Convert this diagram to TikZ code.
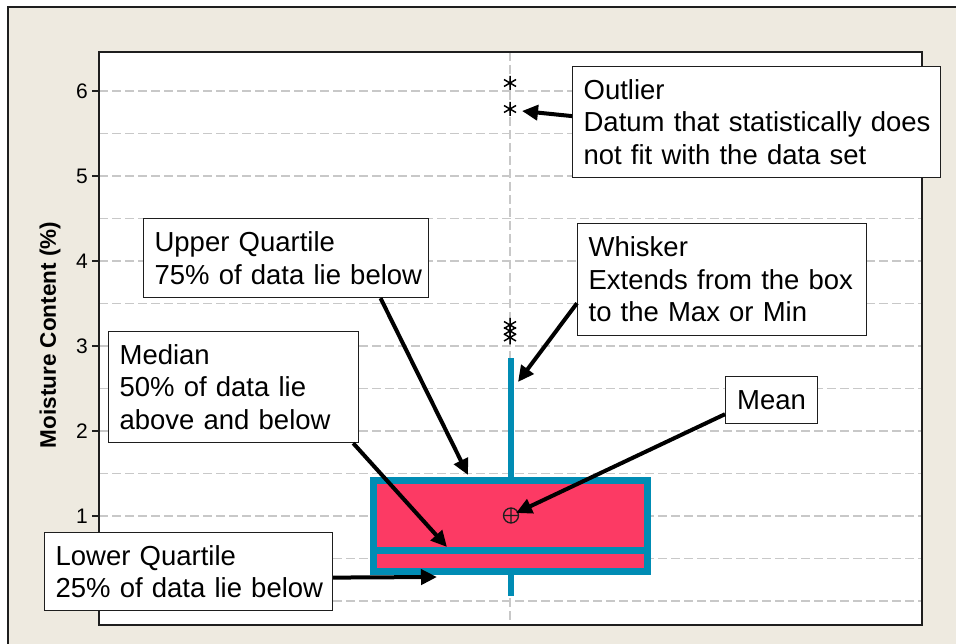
\documentclass[tikz,border=0pt]{standalone}
\usepackage{fontspec}
\setmainfont{Liberation Sans}
\usetikzlibrary{arrows.meta,calc}

\definecolor{panel}{RGB}{238,234,224}
\definecolor{boxfill}{RGB}{252,58,100}
\definecolor{boxedge}{RGB}{0,140,180}
\definecolor{gridgray}{RGB}{200,200,200}
\definecolor{ink}{RGB}{30,30,30}

\tikzset{
  callout/.style={draw=ink, line width=1.2pt, fill=white, anchor=north west,
    align=left, inner xsep=11pt, inner ysep=0pt,
    font=\fontsize{27.5}{32.5}\selectfont},
  pointer/.style={line width=4pt, -{Triangle[length=16pt,width=15pt]}},
  grid line/.style={gridgray, line width=1.5pt, dash pattern=on 9pt off 4pt},
  ticklabel/.style={anchor=east, inner sep=0pt, font=\fontsize{21}{21}\selectfont},
  outlier/.pic={\draw[line width=1.5pt] (0,-7) -- (0,7)
      (-6,-3.5) -- (6,3.5) (-6,3.5) -- (6,-3.5);},
}

\begin{document}
\begin{tikzpicture}[x=1pt,y=-1pt]
  \useasboundingbox (0,0) rectangle (956,644);

  % outer panel
  \fill[panel] (8,7) rectangle (956,644);
  \draw[ink, line width=2pt] (8,644) -- (8,7) -- (956,7);

  % plot area
  \fill[white] (99,52) rectangle (922,625);
  \foreach \v in {0,0.5,...,6.01}
    \draw[grid line] (99,{601-85*\v}) -- (922,{601-85*\v});
  \draw[grid line] (510,52) -- (510,625);
  \draw[ink, line width=1.8pt] (99,52) rectangle (922,625);

  % y axis ticks and labels
  \foreach \v in {1,...,6} {
    \draw[ink, line width=1.5pt] (92,{601-85*\v}) -- (99,{601-85*\v});
    \node[ticklabel] (t\v) at (88,{601-85*\v}) {\v};
  }
  \node[rotate=90, font=\bfseries\fontsize{22.5}{22.5}\selectfont] (ylab) at (50,335)
    {Moisture Content (\%)};

  % box plot
  \fill[boxfill] (373.5,480.5) rectangle (647.5,571.5);
  \draw[boxedge, line width=7pt] (373.5,480.5) rectangle (647.5,571.5);
  \draw[boxedge, line width=6.7pt] (373.5,550.7) -- (647.5,550.7);
  \draw[boxedge, line width=6.6pt] (511,477) -- (511,358);
  \draw[boxedge, line width=6.6pt] (511,575) -- (511,596);

  % mean symbol
  \draw[ink, line width=1.3pt] (511,515.5) circle (7.5pt)
    (503.5,515.5) -- (518.5,515.5) (511,508) -- (511,523);

  % outliers
  \pic at (510,83) {outlier};
  \pic at (510,109) {outlier};
  \pic at (510,325) {outlier};
  \pic at (510,331) {outlier};
  \pic at (510,337.5) {outlier};

  % callouts
  \node[callout, text width=346pt, minimum height=111pt] (outl) at (572,66)
    {\mbox{Outlier}\\\mbox{Datum that statistically does}\\\mbox{not fit with the data set}};
  \node[callout, text width=263pt, minimum height=79pt] (uq) at (143,218)
    {\mbox{Upper Quartile}\\\mbox{75\% of data lie below}};
  \node[callout, text width=267pt, minimum height=112pt] (wh) at (577,223)
    {\mbox{Whisker}\\\mbox{Extends from the box}\\\mbox{to the Max or Min}};
  \node[callout, text width=228pt, minimum height=111pt] (med) at (108,331)
    {\mbox{Median}\\\mbox{50\% of data lie}\\\mbox{above and below}};
  \node[callout, minimum width=92pt, minimum height=47pt] (mean) at (725,376)
    {Mean};
  \node[callout, text width=266pt, minimum height=78pt] (lq) at (44,532)
    {\mbox{Lower Quartile}\\\mbox{25\% of data lie below}};

  % arrow targets
  \coordinate (tipOut) at (522,111);
  \coordinate (tipUQ) at (468,475);
  \coordinate (tipWh) at (518,382);
  \coordinate (tipMed) at (447,547);
  \coordinate (tipMean) at (516,513);
  \coordinate (tipLQ) at (437,577);

  % arrows
  \draw[pointer] ([yshift=6pt]outl.west) -- (tipOut);
  \draw[pointer] ($(uq.south west)!0.83!(uq.south east)$) -- (tipUQ);
  \draw[pointer] ([yshift=33pt]wh.south west) -- (tipWh);
  \draw[pointer] ([xshift=-6pt]med.south east) -- (tipMed);
  \draw[pointer] ([yshift=10pt]mean.south west) -- (tipMean);
  \draw[pointer] ([yshift=-6pt]lq.east) -- (tipLQ);
\end{tikzpicture}
\end{document}
